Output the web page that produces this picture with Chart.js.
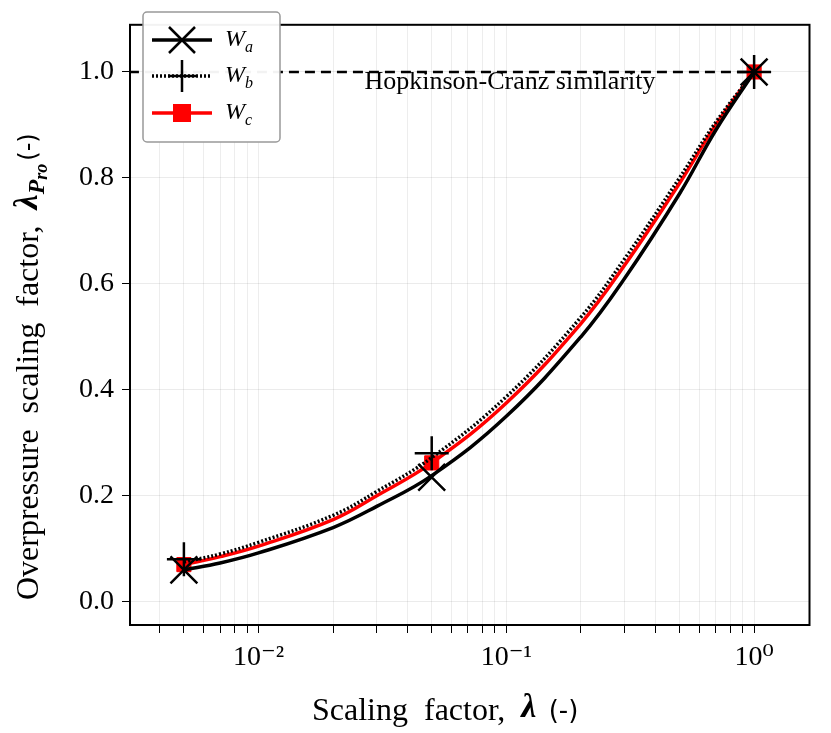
<!DOCTYPE html>
<html><head><meta charset="utf-8">
<script src="https://cdn.jsdelivr.net/npm/chart.js@4"></script>
<style>html,body{margin:0;padding:0;background:#fff}#c{display:block}</style>
</head><body>
<div style="width:831px;height:733px"><canvas id="c" width="831" height="733"></canvas></div>
<script>
const curveX = [0.005,0.007,0.01,0.02,0.03,0.05,0.1,0.2,0.3,0.5,0.7,1.0];
const curveWa = [0.06,0.073,0.092,0.14,0.18,0.238,0.35,0.50,0.61,0.77,0.89,1.0];
const curveWb = [0.075,0.09,0.112,0.163,0.208,0.272,0.387,0.537,0.647,0.80,0.905,1.0];
const curveWc = [0.07,0.085,0.105,0.155,0.2,0.262,0.375,0.525,0.635,0.79,0.9,1.0];
const markX = [0.005,0.05,1.0];
const markWa = [0.06,0.235,1.0];
const markWb = [0.08,0.28,1.0];
const markWc = [0.07,0.262,1.0];
const simX = [0.003,1.0];
const simY = [1.0,1.0];
const yTicks = [0,0.2,0.4,0.6,0.8,1.0];
const xTicks = [0.01,0.1,1];
const xTickLabels = ['10⁻²','10⁻¹','10⁰'];

const pts=(xs,ys)=>xs.map((x,i)=>({x,y:ys[i]}));
const FONT='"Liberation Serif", "DejaVu Serif", serif';

const overlay={id:'overlay',afterDraw(ch){
  const c=ch.ctx,a=ch.chartArea;
  c.save();
  c.strokeStyle='#000';c.lineWidth=2;c.strokeRect(a.left,a.top,a.right-a.left,a.bottom-a.top);
  c.fillStyle='#000';c.font='26px '+FONT;c.textAlign='center';c.textBaseline='middle';
  c.fillText('Hopkinson-Cranz similarity',510,82);
  c.font='32px '+FONT;c.textAlign='left';
  c.fillText('Scaling  factor,  ',312,712);
  let w=c.measureText('Scaling  factor,  ').width;
  c.font='italic bold 34px '+FONT;c.fillText('λ',312+w,708);
  let w2=c.measureText('λ').width;
  c.font='26px "DejaVu Sans", sans-serif';c.fillText(' (-)',312+w+w2+4,712);
  c.translate(30,600);c.rotate(-Math.PI/2);
  c.font='32px '+FONT;c.textAlign='left';
  const t='Overpressure  scaling  factor,  ';
  c.fillText(t,0,0);let x=c.measureText(t).width;
  c.font='italic bold 34px '+FONT;c.fillText('λ',x,-2);x+=c.measureText('λ').width;
  c.font='italic bold 24px '+FONT;c.fillText('P',x,8);x+=c.measureText('P').width;
  c.font='italic bold 18px '+FONT;c.fillText('ro',x,12);x+=c.measureText('ro').width+3;
  c.font='24px "DejaVu Sans", sans-serif';c.fillText('(-)',x,0);
  c.restore();
  c.save();
  c.fillStyle='rgba(255,255,255,0.95)';c.strokeStyle='#999';c.lineWidth=1.5;
  c.beginPath();c.roundRect(143,12,137,130,4);c.fill();c.stroke();
  const rows=[{y:40,col:'#000',dash:[],lw:3.5,m:'X',lab:'a'},{y:76,col:'#000',dash:[2,2],lw:3.5,m:'+',lab:'b'},{y:113,col:'#ff0000',dash:[],lw:3.5,m:'s',lab:'c'}];
  rows.forEach(r=>{
    c.strokeStyle=r.col;c.lineWidth=r.lw;c.setLineDash(r.dash);
    c.beginPath();c.moveTo(152,r.y);c.lineTo(212,r.y);c.stroke();c.setLineDash([]);
    const cx=182;
    if(r.m==='X'){c.lineWidth=2.5;c.beginPath();c.moveTo(cx-13,r.y-13);c.lineTo(cx+13,r.y+13);c.moveTo(cx+13,r.y-13);c.lineTo(cx-13,r.y+13);c.stroke();}
    else if(r.m==='+'){c.lineWidth=2.5;c.beginPath();c.moveTo(cx,r.y-16);c.lineTo(cx,r.y+16);c.moveTo(cx-14,r.y);c.lineTo(cx+14,r.y);c.stroke();}
    else {c.fillStyle='#ff0000';c.fillRect(cx-9,r.y-9,18,18);}
    c.fillStyle='#000';c.font='italic 24px '+FONT;c.textAlign='left';c.textBaseline='middle';
    c.fillText('W',225,r.y);const ww=c.measureText('W').width;
    c.font='italic 16px '+FONT;c.fillText(r.lab,225+ww,r.y+8);
  });
  c.restore();
}};

new Chart(document.getElementById('c'),{
  type:'scatter',
  data:{datasets:[
    {data:pts(simX,simY),showLine:true,borderColor:'#000',borderWidth:2.5,borderDash:[10,6],pointRadius:0},
    {data:pts(curveX,curveWa),showLine:true,borderColor:'#000',borderWidth:3.5,pointRadius:0,tension:0.4},
    {data:pts(curveX,curveWb),showLine:true,borderColor:'#000',borderWidth:3.5,borderDash:[2,2],pointRadius:0,tension:0.4},
    {data:pts(markX,markWa),showLine:false,pointStyle:'crossRot',pointRadius:19,borderColor:'#000',borderWidth:2.5},
    {data:pts(markX,markWb),showLine:false,pointStyle:'cross',pointRadius:17,borderColor:'#000',borderWidth:2.5},
    {data:pts(curveX,curveWc),showLine:true,borderColor:'#ff0000',borderWidth:3.5,pointRadius:0,tension:0.4},
    {data:pts(markX,markWc),showLine:false,pointStyle:'rect',pointRadius:10,backgroundColor:'#ff0000',borderColor:'#ff0000'}
  ]},
  options:{responsive:false,animation:false,
    layout:{padding:{top:-17,right:-15,left:0,bottom:0}},
    plugins:{legend:{display:false},tooltip:{enabled:false}},
    scales:{
      x:{type:'logarithmic',min:0.00303,max:1.673,
        afterFit(s){s.height=108;},
        afterBuildTicks(s){const t=[];for(let e=-3;e<=0;e++)for(let k=1;k<10;k++){const v=k*Math.pow(10,e);if(v>=s.min&&v<=s.max)t.push({value:v});}s.ticks=t;},
        ticks:{autoSkip:false,maxRotation:0,color:'#000',font:{family:FONT,size:28},padding:8,
          callback(v){const i=xTicks.findIndex(t=>Math.abs(t-v)/t<1e-6);return i>=0?xTickLabels[i]:'';}},
        grid:{color:'rgba(0,0,0,0.07)',lineWidth:1,tickColor:'#000',tickLength:8}},
      y:{min:-0.044,max:1.089,
        afterFit(s){s.width=130;},
        afterBuildTicks(s){s.ticks=yTicks.map(v=>({value:v}));},
        ticks:{color:'#000',font:{family:FONT,size:28},padding:8,callback:v=>v.toFixed(1)},
        grid:{color:'rgba(0,0,0,0.08)',lineWidth:1,tickColor:'#000',tickLength:8}}
    }},
  plugins:[overlay]
});
</script>
</body></html>
